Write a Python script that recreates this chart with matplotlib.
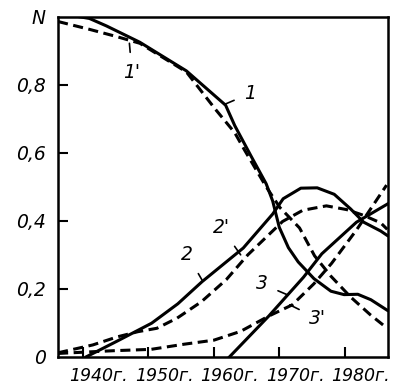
# Share curves N(t), 1940-1985 (solid: actual, dashed: model)
import matplotlib
matplotlib.use("Agg")
import matplotlib.pyplot as plt
import matplotlib.transforms as mtransforms

# curve 1 / 1'
years_1 = [1939.5, 1941.0, 1943.6, 1948.7, 1955.8, 1961.8, 1963.2, 1965.7, 1968.0, 1969.0,
           1970.0, 1971.4, 1972.9, 1975.3, 1977.9, 1979.9, 1982.0, 1984.0, 1986.5]
n_1 = [1.0, 0.995, 0.973, 0.925, 0.841, 0.740, 0.680, 0.590, 0.509, 0.458,
       0.381, 0.321, 0.279, 0.230, 0.193, 0.183, 0.184, 0.168, 0.137]
years_1d = [1936.2, 1941.0, 1945.1, 1948.7, 1955.8, 1960.2, 1963.2, 1964.7, 1968.0, 1970.1,
            1973.1, 1975.4, 1977.9, 1980.9, 1983.9, 1986.5]
n_1d = [0.986, 0.963, 0.942, 0.922, 0.838, 0.729, 0.659, 0.608, 0.500, 0.439,
        0.379, 0.297, 0.237, 0.176, 0.124, 0.084]

# curve 2 / 2'
years_2 = [1940.5, 1945.3, 1950.5, 1954.5, 1958.2, 1964.5, 1969.0, 1970.6, 1973.3, 1975.8,
           1978.4, 1980.9, 1982.9, 1985.5, 1986.5]
n_2 = [0.0, 0.047, 0.099, 0.156, 0.221, 0.320, 0.420, 0.465, 0.496, 0.497,
       0.478, 0.435, 0.396, 0.370, 0.357]
years_2d = [1936.2, 1941.5, 1945.3, 1948.4, 1951.3, 1954.4, 1958.1, 1961.9, 1965.2, 1970.5,
            1973.6, 1977.2, 1980.3, 1982.9, 1985.5, 1986.5]
n_2d = [0.012, 0.035, 0.059, 0.074, 0.084, 0.114, 0.162, 0.227, 0.300, 0.398,
        0.431, 0.444, 0.433, 0.416, 0.394, 0.375]

# curve 3 / 3'
years_3 = [1962.4, 1968.4, 1973.7, 1976.5, 1981.8, 1986.5]
n_3 = [0.0, 0.120, 0.234, 0.303, 0.396, 0.449]
years_3d = [1936.2, 1944.6, 1950.4, 1955.4, 1960.0, 1964.1, 1968.4, 1972.0, 1975.3, 1978.0,
            1981.8, 1984.1, 1986.4]
n_3d = [0.010, 0.018, 0.022, 0.037, 0.049, 0.075, 0.120, 0.153, 0.215, 0.275,
        0.373, 0.439, 0.505]

# curve labels: text, label position, leader end on the curve
curve_labels = ["1", "1'", "2", "2'", "3", "3'"]
label_xy = [(1965.6, 0.775), (1947.5, 0.835), (1955.9, 0.302), (1961.1, 0.381),
            (1967.3, 0.215), (1975.9, 0.112)]
leader_xy = [(1961.6, 0.742), (1947.1, 0.922), (1958.2, 0.226), (1964.1, 0.300),
             (1971.3, 0.182), (1971.6, 0.153)]

x_ticks = [1940, 1950, 1960, 1970, 1980]
x_tick_labels = ["1940г.", "1950г.", "1960г.", "1970г.", "1980г."]
y_ticks = [0, 0.2, 0.4, 0.6, 0.8, 1.0]
y_tick_labels = ["0", "0,2", "0,4", "0,6", "0,8", "N"]

font = dict(family="DejaVu Sans", style="italic", size=12.5)
yfont = dict(family="DejaVu Sans", style="italic", size=13.5)

fig = plt.figure(figsize=(3.95, 3.90), dpi=100)
ax = fig.add_axes([0.147, 0.085, 0.835, 0.872])

lw = 2.2
dash = (3.3, 1.8)
ax.plot(years_1, n_1, color="black", lw=lw)
ax.plot(years_1d, n_1d, color="black", lw=lw, dashes=dash)
ax.plot(years_2, n_2, color="black", lw=lw)
ax.plot(years_2d, n_2d, color="black", lw=lw, dashes=dash)
ax.plot(years_3, n_3, color="black", lw=lw)
ax.plot(years_3d, n_3d, color="black", lw=lw, dashes=dash)

for txt, pos, end in zip(curve_labels, label_xy, leader_xy):
    ax.annotate(txt, xy=end, xytext=pos, ha="center", va="center", **yfont,
                arrowprops=dict(arrowstyle="-", lw=1.2, color="black",
                                shrinkA=6, shrinkB=0))

ax.set_xlim(1936.2, 1986.6)
ax.set_ylim(0, 1.0)
ax.set_xticks(x_ticks)
ax.set_xticklabels(x_tick_labels, **font)
ax.set_yticks(y_ticks)
ax.set_yticklabels(y_tick_labels, **yfont)
ax.tick_params(direction="in", length=7, width=1.5, pad=7)
ax.tick_params(axis="y", pad=9)
# year labels sit a bit right of their ticks in the original
shift = mtransforms.ScaledTranslation(0.16, 0, fig.dpi_scale_trans)
for lab in ax.get_xticklabels():
    lab.set_transform(lab.get_transform() + shift)
# no tick marks at 0 and N, only labels
for i in (0, len(y_ticks) - 1):
    ax.yaxis.get_major_ticks()[i].tick1line.set_visible(False)
for s in ax.spines.values():
    s.set_linewidth(1.8)

fig.savefig("out.png", dpi=100)
